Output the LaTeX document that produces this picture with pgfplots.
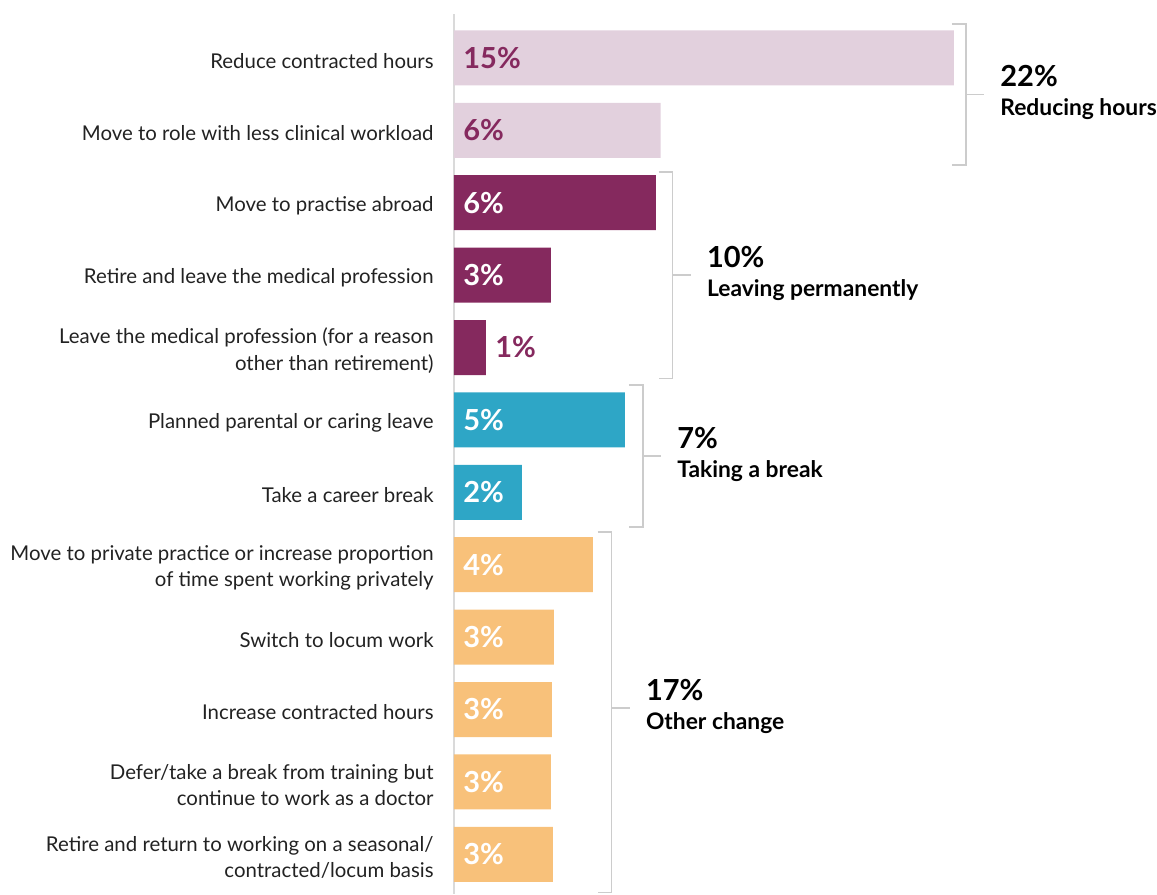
\documentclass[border=0pt]{standalone}
\usepackage{pgfplots}
\pgfplotsset{compat=1.18}
\usepackage{fontspec}
\setmainfont{Lato}
\definecolor{lpink}{HTML}{E2D0DD}
\definecolor{purp}{HTML}{85295E}
\definecolor{teal2}{HTML}{2EA6C6}
\definecolor{orng}{HTML}{F8C17A}
\definecolor{bgray}{HTML}{CCCCCC}
\definecolor{agray}{HTML}{DADADA}
\definecolor{txt}{HTML}{222222}
\newcommand{\bracket}[6]{%
  \draw[bgray, line width=0.75pt] ([xshift=-7pt]axis cs:#1,#2) -- (axis cs:#1,#2) -- (axis cs:#1,#3) -- ([xshift=-7pt]axis cs:#1,#3);
  \draw[bgray, line width=0.75pt] (axis cs:#1,#4) -- ([xshift=9pt]axis cs:#1,#4);
  \node[anchor=base west, inner sep=0pt, font=\bfseries\fontsize{14.5}{16}\selectfont, text=black] at ([xshift=17pt, yshift=4pt]axis cs:#1,#4) {#5};
  \node[anchor=base west, inner sep=0pt, font=\bfseries\fontsize{11.4}{13}\selectfont, text=black] at ([xshift=17pt, yshift=-10.5pt]axis cs:#1,#4) {#6};
}
\begin{document}
\begin{tikzpicture}
\begin{axis}[
  scale only axis, width=250pt, height=439.83pt,
  xmin=0, xmax=15, ymin=-0.6, ymax=11.55, y dir=reverse,
  axis x line=none, axis y line*=left,
  y axis line style={draw=agray, line width=0.75pt, -},
  ytick={0,...,11}, major tick length=0pt,
  yticklabels={Reduce contracted hours, Move to role with less clinical workload, Move to practise abroad, Retire and leave the medical profession, {Leave the medical profession (for a reason\\other than retirement)}, Planned parental or caring leave, Take a career break, {Move to private practice or increase proportion\\of time spent working privately}, Switch to locum work, Increase contracted hours, {Defer/take a break from training but\\continue to work as a doctor}, {Retire and return to working on a seasonal/\\contracted/locum basis}},
  yticklabel style={align=right, inner sep=0pt, xshift=-10pt, yshift=-1.5pt, font=\fontsize{10.2}{13.2}\selectfont, text=txt},
  clip=false,
  bar width=27.5pt,
]
\addplot[xbar, bar shift=0pt, fill=lpink, draw=none] coordinates {(15,0) (6.2,1)};
\addplot[xbar, bar shift=0pt, fill=purp, draw=none] coordinates {(6.06,2) (2.91,3) (0.96,4)};
\addplot[xbar, bar shift=0pt, fill=teal2, draw=none] coordinates {(5.13,5) (2.04,6)};
\addplot[xbar, bar shift=0pt, fill=orng, draw=none] coordinates {(4.17,7) (3.0,8) (2.94,9) (2.91,10) (2.97,11)};
% value labels
\addplot[draw=none, mark=none, nodes near coords, point meta=explicit symbolic,
  nodes near coords style={anchor=west, inner sep=0pt, xshift=4.5pt, font=\bfseries\fontsize{14.5}{16}\selectfont, text=purp}]
  coordinates {(0,0) [15\%] (0,1) [6\%] (0.96,4) [1\%]};
\addplot[draw=none, mark=none, nodes near coords, point meta=explicit symbolic,
  nodes near coords style={anchor=west, inner sep=0pt, xshift=4.5pt, font=\bfseries\fontsize{14.5}{16}\selectfont, text=white}]
  coordinates {(0,2) [6\%] (0,3) [3\%] (0,5) [5\%] (0,6) [2\%] (0,7) [4\%] (0,8) [3\%] (0,9) [3\%] (0,10) [3\%] (0,11) [3\%]};
\bracket{15.36}{-0.47}{1.48}{0.505}{22\%}{Reducing hours}
\bracket{6.56}{1.575}{4.43}{3.0}{10\%}{Leaving permanently}
\bracket{5.67}{4.52}{6.48}{5.5}{7\%}{Taking a break}
\bracket{4.73}{6.55}{11.53}{8.98}{17\%}{Other change}
\coordinate (BL) at (axis cs:-13.62,11.56);
\coordinate (TR) at (axis cs:21.09,-0.80);
\end{axis}
\pgfresetboundingbox
\path (BL) rectangle (TR);
\end{tikzpicture}
\end{document}
